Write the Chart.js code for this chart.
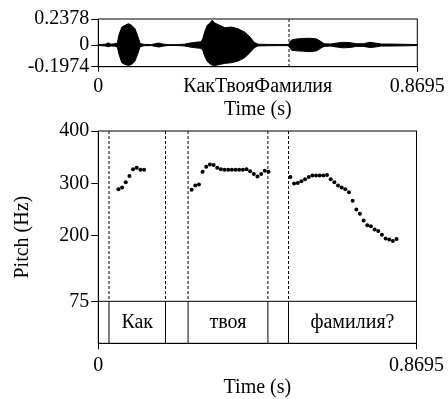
<!DOCTYPE html>
<html>
<head>
<meta charset="utf-8">
<script src="https://cdn.jsdelivr.net/npm/chart.js@4"></script>
<style>
  html, body { margin: 0; padding: 0; background: #fff; }
  #wrap { position: relative; width: 448px; height: 399px; }
  #wave { position: absolute; left: 0; top: 0; }
  #pitch { position: absolute; left: 0; top: 116px; }
</style>
</head>
<body>
<div id="wrap">
  <canvas id="wave" width="448" height="120"></canvas>
  <canvas id="pitch" width="448" height="283"></canvas>
</div>
<script>
// sound: envelope of the waveform
const soundName = 'КакТвояФамилия';
const timeRange = [0, 0.8695];
const timeTickLabels = ['0', '0.8695'];
const waveRange = [-0.1974, 0.2378];
const waveTicks = [-0.1974, 0, 0.2378];
const waveTimes = [0, 0.020, 0.027, 0.035, 0.045, 0.052, 0.056, 0.064, 0.073, 0.082, 0.091, 0.100, 0.107, 0.114,
  0.125, 0.145, 0.155, 0.165, 0.175, 0.190, 0.215, 0.235, 0.250, 0.265, 0.280, 0.285, 0.290, 0.297, 0.304,
  0.310, 0.318, 0.331, 0.345, 0.363, 0.381, 0.399, 0.413, 0.425, 0.435, 0.460, 0.490, 0.518, 0.527, 0.541,
  0.559, 0.577, 0.595, 0.606, 0.615, 0.632, 0.650, 0.668, 0.686, 0.704, 0.722, 0.741, 0.754, 0.772, 0.795,
  0.850, 0.8695];
const waveUpper = [0.004, 0.008, 0.020, 0.008, 0.012, 0.020, 0.090, 0.164, 0.180, 0.195, 0.180, 0.149, 0.087, 0.015,
  0.006, 0.005, 0.012, 0.018, 0.010, 0.004, 0.004, 0.008, 0.018, 0.025, 0.030, 0.060, 0.120, 0.180, 0.200,
  0.226, 0.200, 0.180, 0.158, 0.164, 0.149, 0.118, 0.075, 0.025, 0.008, 0.006, 0.005, 0.005, 0.047, 0.056,
  0.060, 0.062, 0.056, 0.034, 0.012, 0.009, 0.018, 0.025, 0.022, 0.012, 0.012, 0.025, 0.018, 0.009, 0.009,
  0.006, 0.004];
const waveLower = [-0.004, -0.008, -0.015, -0.008, -0.010, -0.020, -0.080, -0.161, -0.177, -0.186, -0.177, -0.146, -0.084, -0.015,
  -0.006, -0.005, -0.012, -0.018, -0.010, -0.004, -0.004, -0.008, -0.018, -0.025, -0.030, -0.050, -0.100, -0.150, -0.170,
  -0.183, -0.186, -0.177, -0.167, -0.161, -0.146, -0.115, -0.070, -0.025, -0.008, -0.006, -0.005, -0.005, -0.047, -0.053,
  -0.056, -0.060, -0.053, -0.030, -0.012, -0.009, -0.018, -0.025, -0.022, -0.012, -0.012, -0.022, -0.018, -0.009, -0.009,
  -0.006, -0.004];
const cursorTime = 0.5198;

// pitch track
const pitchTicks = [75, 200, 300, 400];
const pitchTimes = [0.055, 0.065, 0.075, 0.085, 0.095, 0.105, 0.115, 0.125,
  0.255, 0.265, 0.275, 0.285, 0.295, 0.305, 0.315, 0.325, 0.335, 0.345, 0.355, 0.365, 0.375, 0.385, 0.395,
  0.405, 0.415, 0.425, 0.435, 0.445, 0.455, 0.465,
  0.525, 0.535, 0.545, 0.555, 0.565, 0.575, 0.585, 0.595, 0.605, 0.615, 0.625, 0.635, 0.645, 0.655, 0.665,
  0.675, 0.685, 0.695, 0.705, 0.715, 0.725, 0.735, 0.745, 0.755, 0.765, 0.775, 0.785, 0.795, 0.805, 0.815];
const pitchValues = [289, 292, 302, 314, 327, 330, 326, 326,
  288, 296, 298, 322, 332, 336, 335, 330, 327, 326, 326, 326, 326, 326, 326,
  327, 323, 318, 313, 318, 324, 322,
  312, 300, 301, 304, 308, 312, 315, 315, 315, 315, 316, 308, 302, 296, 292,
  289, 283, 267, 250, 242, 229, 220, 218, 212, 209, 202, 195, 193, 190, 194];

// text tier
const tierBounds = [0.0292, 0.1837, 0.2453, 0.4634, 0.5198];
const tierLabels = ['', 'Как', '', 'твоя', '', 'фамилия?'];

const FONT = '"Liberation Serif", "Times New Roman", serif';
Chart.defaults.font.family = FONT;
Chart.defaults.font.size = 20;
Chart.defaults.color = '#000';

const frame = {
  id: 'frame',
  afterDraw(chart) {
    const { ctx, chartArea: a } = chart;
    ctx.save();
    ctx.strokeStyle = '#000';
    ctx.lineWidth = 1;
    ctx.strokeRect(a.left, a.top, a.width, a.height);
    ctx.restore();
  }
};

const cursor = {
  id: 'cursor',
  afterDatasetsDraw(chart) {
    const { ctx, chartArea: a, scales } = chart;
    const x = scales.x.getPixelForValue(cursorTime);
    ctx.save();
    ctx.strokeStyle = '#000';
    ctx.lineWidth = 1;
    ctx.setLineDash([3, 2]);
    ctx.beginPath();
    ctx.moveTo(x, a.top);
    ctx.lineTo(x, a.bottom);
    ctx.stroke();
    ctx.restore();
  }
};

const tier = {
  id: 'tier',
  beforeDatasetsDraw(chart) {
    const { ctx, chartArea: a, scales } = chart;
    const y75 = scales.y.getPixelForValue(pitchTicks[0]);
    ctx.save();
    ctx.strokeStyle = '#000';
    ctx.lineWidth = 1;
    ctx.beginPath();
    ctx.moveTo(a.left, y75);
    ctx.lineTo(a.right, y75);
    ctx.stroke();
    tierBounds.forEach(t => {
      const x = scales.x.getPixelForValue(t);
      ctx.setLineDash([3, 2]);
      ctx.beginPath();
      ctx.moveTo(x, a.top);
      ctx.lineTo(x, y75);
      ctx.stroke();
      ctx.setLineDash([]);
      ctx.beginPath();
      ctx.moveTo(x, y75);
      ctx.lineTo(x, a.bottom);
      ctx.stroke();
    });
    const edges = [timeRange[0], ...tierBounds, timeRange[1]];
    ctx.fillStyle = '#000';
    ctx.font = '20px ' + FONT;
    ctx.textAlign = 'center';
    ctx.textBaseline = 'middle';
    tierLabels.forEach((lab, i) => {
      if (!lab) return;
      const x = (scales.x.getPixelForValue(edges[i]) + scales.x.getPixelForValue(edges[i + 1])) / 2;
      ctx.fillText(lab, x, (y75 + a.bottom) / 2);
    });
    ctx.restore();
  }
};

const gridOpts = { drawOnChartArea: false, drawTicks: true, color: '#000', lineWidth: 1 };

new Chart(document.getElementById('wave'), {
  type: 'line',
  data: {
    datasets: [
      {
        data: waveTimes.map((t, i) => ({ x: t, y: waveUpper[i] })),
        borderColor: '#000', backgroundColor: '#000', borderWidth: 1,
        pointRadius: 0, fill: '+1', tension: 0
      },
      {
        data: waveTimes.map((t, i) => ({ x: t, y: waveLower[i] })),
        borderColor: '#000', borderWidth: 1, pointRadius: 0, fill: false, tension: 0
      }
    ]
  },
  options: {
    responsive: false,
    animation: false,
    devicePixelRatio: 1,
    layout: { padding: { top: 19, right: 30.7, left: 0, bottom: 0 } },
    plugins: { legend: { display: false }, tooltip: { enabled: false } },
    scales: {
      x: {
        type: 'linear', min: timeRange[0], max: timeRange[1],
        afterBuildTicks: s => { s.ticks = [timeRange[0], (timeRange[0] + timeRange[1]) / 2, timeRange[1]].map(v => ({ value: v })); },
        afterFit: s => { s.height = 53.3; },
        ticks: {
          autoSkip: false, maxRotation: 0, minRotation: 0, padding: 3,
          callback: (v, i) => [timeTickLabels[0], soundName, timeTickLabels[1]][i]
        },
        grid: { ...gridOpts, tickLength: 5, tickColor: c => c.index === 1 ? 'rgba(0,0,0,0)' : '#000' },
        border: { display: true, color: '#000' },
        title: { display: true, text: 'Time (s)', font: { lineHeight: 1 }, padding: { top: 0, bottom: 0 } }
      },
      y: {
        type: 'linear', min: waveRange[0], max: waveRange[1],
        afterBuildTicks: s => { s.ticks = waveTicks.map(v => ({ value: v })); },
        afterFit: s => { s.width = 98.3; },
        ticks: { autoSkip: false, padding: 2, callback: v => String(v) },
        grid: { ...gridOpts, tickLength: 7 },
        border: { display: true, color: '#000' }
      }
    }
  },
  plugins: [frame, cursor]
});

new Chart(document.getElementById('pitch'), {
  type: 'scatter',
  data: {
    datasets: [{
      data: pitchTimes.map((t, i) => ({ x: t, y: pitchValues[i] })),
      pointRadius: 2, pointBackgroundColor: '#000', pointBorderWidth: 0, showLine: false
    }]
  },
  options: {
    responsive: false,
    animation: false,
    devicePixelRatio: 1,
    layout: { padding: { top: 15, right: 30.7, left: 0, bottom: 0 } },
    plugins: { legend: { display: false }, tooltip: { enabled: false } },
    scales: {
      x: {
        type: 'linear', min: timeRange[0], max: timeRange[1],
        afterBuildTicks: s => { s.ticks = timeRange.map(v => ({ value: v })); },
        afterFit: s => { s.height = 55.7; },
        ticks: { autoSkip: false, maxRotation: 0, minRotation: 0, padding: 4, callback: (v, i) => timeTickLabels[i] },
        grid: { ...gridOpts, tickLength: 6 },
        border: { display: true, color: '#000' },
        title: { display: true, text: 'Time (s)', font: { lineHeight: 1 }, padding: { top: 0, bottom: 1 } }
      },
      y: {
        type: 'linear', min: -5.15, max: 400,
        afterBuildTicks: s => { s.ticks = pitchTicks.map(v => ({ value: v })); },
        afterFit: s => { s.width = 98.3; },
        ticks: { autoSkip: false, padding: 2, callback: v => String(v) },
        grid: { ...gridOpts, tickLength: 7 },
        border: { display: true, color: '#000' },
        title: { display: true, text: 'Pitch (Hz)', padding: { top: 11, bottom: 0 } }
      }
    }
  },
  plugins: [frame, tier]
});
</script>
</body>
</html>
